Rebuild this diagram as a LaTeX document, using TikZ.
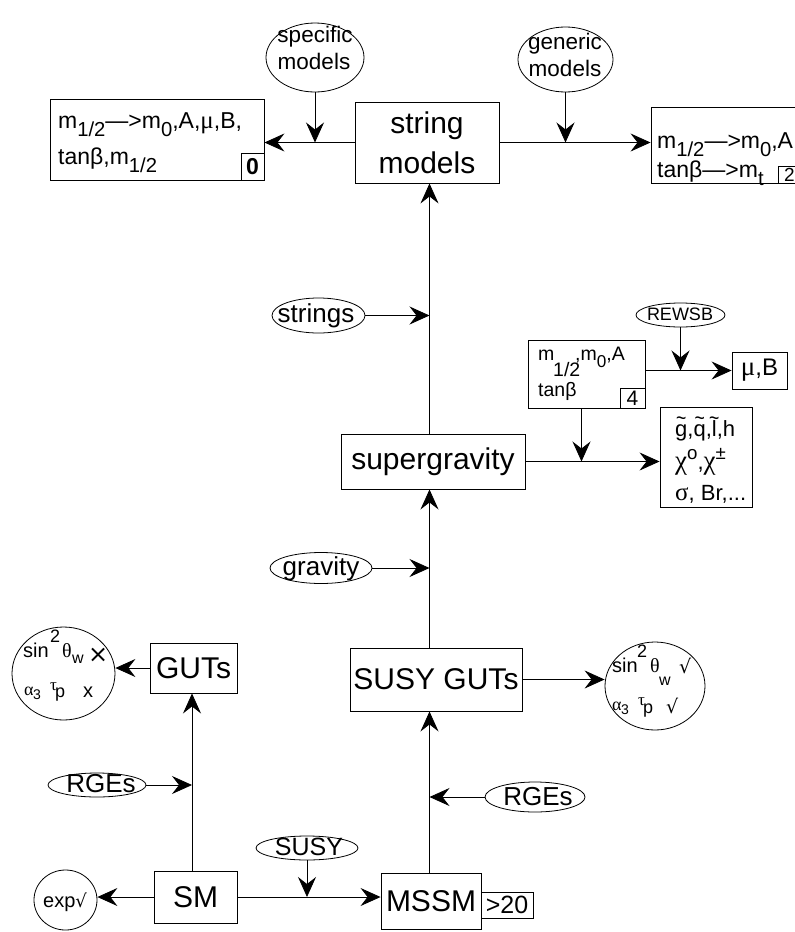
\documentclass[tikz,border=0pt]{standalone}
\usepackage{fontspec}
\setmainfont{Liberation Sans}
\newfontfamily\serifg{Liberation Serif}
\newfontfamily\djv{DejaVu Sans}
\usepackage{graphicx}
\usetikzlibrary{arrows.meta,shapes.geometric}
\newcommand\fs[1]{\fontsize{#1}{#1}\selectfont}
\newcommand\gr[1]{{\serifg #1}}
\newcommand\sbx[1]{\raisebox{-0.38em}{\scalebox{0.88}{#1}}}
\newcommand\spx[1]{\raisebox{0.42em}{\scalebox{0.85}{#1}}}
\newcommand\tl[1]{\ooalign{#1\cr\hidewidth\raisebox{0.48em}{\scalebox{0.8}[1]{\textasciitilde}}\hidewidth\cr}}
\begin{document}
\begin{tikzpicture}[x=1pt,y=-1pt,
  bx/.style={draw, rectangle, inner sep=0pt, line width=0.9pt},
  el/.style={draw, ellipse, inner sep=0pt, line width=0.8pt},
  tx/.style={inner sep=0pt, font=\fs{#1}},
  big/.style={font=\fontsize{30}{40}\selectfont, align=center},
  arr/.style={-{Stealth[length=20pt,width=18pt,inset=7pt]}, line width=0.8pt}]
\useasboundingbox (0,0) rectangle (795,932);

% ---------- boxes ----------
\node[bx, minimum width=214pt, minimum height=81pt] (L0) at (157,139.5) {};
\node[bx, minimum width=23pt, minimum height=27pt, font=\fs{23}\bfseries] (b0) at (252.5,166.5) {0};
\node[bx, big, minimum width=144pt, minimum height=81pt] (strm) at (427,142.5) {string\\models};
\node[bx, minimum width=150pt, minimum height=76pt] (R2) at (726,145) {};
\node[bx, minimum width=23pt, minimum height=17pt, font=\fs{19}] (b2) at (789.5,174.5) {2};
\node[bx, minimum width=117pt, minimum height=68pt] (box4) at (586.5,374) {};
\node[bx, minimum width=25pt, minimum height=20pt, font=\fs{21}] (b4) at (632.5,398) {4};
\node[bx, minimum width=55pt, minimum height=37pt, font=\fs{24}] (muB) at (759.5,370.5) {{\serifg\fs{27}μ},B};
\node[bx, minimum width=92pt, minimum height=100pt] (res) at (706,457) {};
\node[bx, big, minimum width=184pt, minimum height=55pt] (sg) at (433,461.5) {supergravity};
\node[bx, big, minimum width=172pt, minimum height=63pt] (sgut) at (436,679.5) {SUSY GUTs};
\node[bx, big, minimum width=100pt, minimum height=56pt] (mssm) at (431,901) {MSSM};
\node[bx, minimum width=52pt, minimum height=26pt, font=\fs{25}] (b20) at (507,905) {>20};
\node[bx, big, minimum width=83pt, minimum height=52pt] (sm) at (195.5,897) {SM};
\node[bx, big, minimum width=87pt, minimum height=50pt] (guts) at (193.5,668) {GUTs};

% ---------- ellipses ----------
\node[el, minimum width=98pt, minimum height=69pt] (specific) at (315,57.5) {};
\node[el, minimum width=95pt, minimum height=65pt] (generic) at (565.5,59.5) {};
\node[el, minimum width=93pt, minimum height=35pt] (strings) at (318.5,315.5) {};
\node[el, minimum width=89pt, minimum height=24pt] (rewsb) at (680.5,315) {};
\node[el, minimum width=102pt, minimum height=31pt] (gravity) at (321,568) {};
\node[el, minimum width=100pt, minimum height=30pt] (rgesR) at (535,797) {};
\node[el, minimum width=98pt, minimum height=24pt] (rgesL) at (97,785) {};
\node[el, minimum width=102pt, minimum height=24pt] (susy) at (307,848) {};
\node[el, minimum width=103pt, minimum height=93pt] (circL) at (63.5,673.5) {};
\node[el, minimum width=100pt, minimum height=88pt] (circR) at (655,686) {};
\node[el, minimum width=63pt, minimum height=60pt] (expc) at (65.5,900) {};

% ---------- ellipse texts ----------
\node[tx=22.5, anchor=base] (specA) at (315,42) {specific};
\node[tx=22.5, anchor=base] (specB) at (314,69) {models};
\node[tx=22.5, anchor=base] (genA) at (565,49) {generic};
\node[tx=22.5, anchor=base] (genB) at (565,76) {models};
\node[tx=26, anchor=base] (stringsT) at (316,322) {strings};
\node[tx=18, anchor=base] (rewsbT) at (680,320) {REWSB};
\node[tx=26, anchor=base] (gravityT) at (321,575) {gravity};
\node[tx=26, anchor=base] (rgesRT) at (538,805) {RGEs};
\node[tx=26, anchor=base] (rgesLT) at (101,792) {RGEs};
\node[tx=25, anchor=base] (susyT) at (309,855) {SUSY};

% ---------- box texts ----------
\node[tx=23, anchor=base west] (l0a) at (58,128) {m\sbx{1/2}—>m\sbx{0},A,{\serifg\fs{25}μ},B,};
\node[tx=23, anchor=base west] (l0b) at (58,164) {tanβ,m\sbx{1/2}};
\node[tx=23, anchor=base west] (r2a) at (657,148) {m\sbx{1/2}—>m\sbx{0},A};
\node[tx=23, anchor=base west] (r2b) at (657,177) {tanβ—>m\sbx{t}};
\node[tx=19.5, anchor=base west] (b4m) at (538,360) {m};
\node[tx=19.5, anchor=base west] (b4h) at (553,376) {1/2};
\node[tx=19.5, anchor=base west] (b4r) at (575,360) {,m\sbx{0},A};
\node[tx=19.5, anchor=base west] (b4t) at (538,396) {tanβ};
\node[tx=22, anchor=base west] (resA) at (675,436) {\tl{g},\tl{q},\tl{l},h};
\node[tx=22, anchor=base west] (resB) at (675,469) {{\serifg\fs{27}χ}\spx{o},{\serifg\fs{27}χ}\spx{±}};
\node[tx=22, anchor=base west] (resC) at (675,500) {{\serifg\fs{25}σ}, Br,...};

% ---------- circle texts ----------
\node[tx=18, anchor=base west] (cl2) at (50,642) {2};
\node[tx=20, anchor=base west] (clsin) at (23,657) {sin};
\node[tx=20, anchor=base west] (clth) at (62,657) {\gr{θ}};
\node[tx=16, anchor=base west] (clw) at (72,663) {w};
\node[tx=28, anchor=base west] (clx) at (88,662) {\djv\fs{24}×};
\node[tx=18, anchor=base west] (cla) at (24,695) {\gr{α}};
\node[tx=14, anchor=base west] (cl3) at (33,699) {3};
\node[tx=17, anchor=base west] (clt) at (50,690) {\gr{τ}};
\node[tx=18, anchor=base west] (clp) at (55,697) {p};
\node[tx=20, anchor=base west] (clxx) at (83,697) {x};

\node[tx=18, anchor=base west] (cr2) at (637,657) {2};
\node[tx=20, anchor=base west] (crsin) at (612,672) {sin};
\node[tx=20, anchor=base west] (crth) at (650,672) {\gr{θ}};
\node[tx=16, anchor=base west] (crw) at (659,685) {w};
\node[tx=19, anchor=base west] (crv) at (679,673) {\djv √};
\node[tx=18, anchor=base west] (cra) at (612,710) {\gr{α}};
\node[tx=14, anchor=base west] (cr3) at (621,714) {3};
\node[tx=17, anchor=base west] (crt) at (638,705) {\gr{τ}};
\node[tx=18, anchor=base west] (crp) at (643,713) {p};
\node[tx=19, anchor=base west] (crvv) at (666,713) {\djv √};

\node[tx=20, anchor=base west] (expT) at (43,907) {exp{\djv\fs{18}√}};

% ---------- connectors ----------
\coordinate (spU) at (429.5,0);
\coordinate (spL) at (192,0);
\draw[arr] (strm.west) -- (strm.west -| L0.east);
\draw[arr] (specific.south) -- (specific.south |- strm.west);
\draw[arr] (strm.east) -- (strm.east -| R2.west);
\draw[arr] (generic.south) -- (generic.south |- strm.east);
\draw[arr] (sg.north -| spU) -- (strm.south -| spU);
\draw[arr] (strings.east) -- (strings.east -| spU);
\draw[arr] (box4.east |- muB.west) -- (muB.west);
\draw[arr] (rewsb.south) -- (rewsb.south |- muB.west);
\draw[arr] (sg.east) -- (sg.east -| res.west);
\draw[arr] ([xshift=-5pt]box4.south) -- ([xshift=-5pt]box4.south |- sg.east);
\draw[arr] (gravity.east) -- (gravity.east -| spU);
\draw[arr] (sgut.north -| spU) -- (sg.south -| spU);
\draw[arr] (sgut.east) -- (sgut.east -| circR.west);
\draw[arr] (mssm.north -| spU) -- (sgut.south -| spU);
\draw[arr] (rgesR.west) -- (rgesR.west -| spU);
\draw[arr] (sm.north -| spL) -- (guts.south -| spL);
\draw[arr] (guts.west) -- (guts.west -| circL.east);
\draw[arr] (rgesL.east) -- (rgesL.east -| spL);
\draw[arr] (sm.west) -- (sm.west -| expc.east);
\draw[arr] (sm.east) -- (sm.east -| mssm.west);
\draw[arr] (susy.south) -- (susy.south |- sm.east);
\end{tikzpicture}
\end{document}
